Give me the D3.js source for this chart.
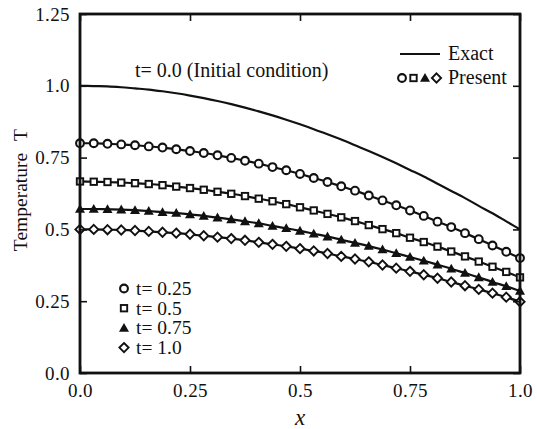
<!DOCTYPE html>
<html><head><meta charset="utf-8">
<script src="https://cdn.jsdelivr.net/npm/d3@7"></script>
<style>body{margin:0;background:#fff}svg{display:block}svg text{font-family:'Liberation Serif','DejaVu Serif',serif !important;fill:#111}</style>
</head><body><svg id="c" width="537" height="429"></svg>
<script>
const xGrid = d3.range(33).map(k => k / 32);
const exact0 = [1.000,0.999,0.998,0.995,0.991,0.987,0.981,0.974,0.966,0.957,0.947,0.936,0.924,0.911,0.897,0.882,0.866,0.849,0.831,0.813,0.793,0.773,0.752,0.730,0.707,0.684,0.659,0.634,0.609,0.582,0.556,0.528,0.500];
const t025 = [0.800,0.800,0.798,0.796,0.793,0.789,0.785,0.779,0.773,0.766,0.758,0.749,0.739,0.729,0.717,0.706,0.693,0.679,0.665,0.650,0.635,0.618,0.601,0.584,0.566,0.547,0.527,0.508,0.487,0.466,0.444,0.422,0.400];
const t050 = [0.667,0.666,0.665,0.663,0.661,0.658,0.654,0.649,0.644,0.638,0.631,0.624,0.616,0.607,0.598,0.588,0.577,0.566,0.554,0.542,0.529,0.515,0.501,0.487,0.471,0.456,0.440,0.423,0.406,0.388,0.370,0.352,0.333];
const t075 = [0.571,0.571,0.570,0.569,0.567,0.564,0.560,0.557,0.552,0.547,0.541,0.535,0.528,0.521,0.512,0.504,0.495,0.485,0.475,0.464,0.453,0.442,0.430,0.417,0.404,0.391,0.377,0.363,0.348,0.333,0.317,0.302,0.286];
const t100 = [0.500,0.500,0.499,0.498,0.496,0.493,0.490,0.487,0.483,0.478,0.473,0.468,0.462,0.455,0.448,0.441,0.433,0.425,0.416,0.406,0.397,0.387,0.376,0.365,0.354,0.342,0.330,0.317,0.304,0.291,0.278,0.264,0.248];
const seriesNames = ["t= 0.25","t= 0.5","t= 0.75","t= 1.0"];
const seriesShapes = ["circle","square","triangle","diamond"];
const xTicks = [0, 0.25, 0.5, 0.75, 1.0];
const xTickLabels = ["0.0","0.25","0.5","0.75","1.0"];
const yTicks = [0, 0.25, 0.5, 0.75, 1.0, 1.25];
const yTickLabels = ["0.0","0.25","0.5","0.75","1.0","1.25"];

const FONT = "'Liberation Serif','DejaVu Serif',serif";
const svg = d3.select("#c");
const L = 80, R = 520, T = 14, B = 373;
const x = d3.scaleLinear().domain([0, 1]).range([L, R]);
const y = d3.scaleLinear().domain([0, 1.25]).range([B, T]);
const series = [t025, t050, t075, t100];

const line = d3.line().x(d => x(d[0])).y(d => y(d[1])).curve(d3.curveMonotoneX);

svg.append("path").datum(xGrid.map((v, i) => [v, exact0[i]]))
  .attr("d", line).attr("fill", "none").attr("stroke", "#111").attr("stroke-width", 2.2);
series.forEach(s => {
  svg.append("path").datum(xGrid.map((v, i) => [v, s[i]]))
    .attr("d", line).attr("fill", "none").attr("stroke", "#111").attr("stroke-width", 2.2);
});

function marker(g, shape, cx, cy) {
  if (shape === "circle") {
    g.append("circle").attr("cx", cx).attr("cy", cy).attr("r", 3.9)
      .attr("fill", "#fff").attr("stroke", "#111").attr("stroke-width", 2.1);
  } else if (shape === "square") {
    g.append("rect").attr("x", cx - 3.2).attr("y", cy - 3.2).attr("width", 6.4).attr("height", 6.4)
      .attr("fill", "#fff").attr("stroke", "#111").attr("stroke-width", 1.9);
  } else if (shape === "triangle") {
    g.append("path").attr("d", `M${cx},${cy - 5}L${cx + 5},${cy + 3.8}L${cx - 5},${cy + 3.8}Z`)
      .attr("fill", "#111");
  } else {
    g.append("path").attr("d", `M${cx},${cy - 4.6}L${cx + 4.6},${cy}L${cx},${cy + 4.6}L${cx - 4.6},${cy}Z`)
      .attr("fill", "#fff").attr("stroke", "#111").attr("stroke-width", 1.9);
  }
}
const mg = svg.append("g");
series.forEach((s, si) => {
  xGrid.forEach((v, i) => marker(mg, seriesShapes[si], x(v), y(s[i])));
});

svg.append("rect").attr("x", L).attr("y", T).attr("width", R - L).attr("height", B - T)
  .attr("fill", "none").attr("stroke", "#111").attr("stroke-width", 2.8);

const fs = "19px";
const xb = svg.append("g").attr("transform", `translate(0,${B})`)
  .call(d3.axisBottom(x).tickValues(xTicks).tickFormat((d, i) => xTickLabels[i]).tickSizeInner(-7).tickSizeOuter(0).tickPadding(11));
const xt = svg.append("g").attr("transform", `translate(0,${T})`)
  .call(d3.axisTop(x).tickValues(xTicks).tickFormat("").tickSizeInner(-7).tickSizeOuter(0));
const yl = svg.append("g").attr("transform", `translate(${L},0)`)
  .call(d3.axisLeft(y).tickValues(yTicks).tickFormat((d, i) => yTickLabels[i]).tickSizeInner(-7).tickSizeOuter(0).tickPadding(10));
const yr = svg.append("g").attr("transform", `translate(${R},0)`)
  .call(d3.axisRight(y).tickValues(yTicks).tickFormat("").tickSizeInner(-7).tickSizeOuter(0));
[xb, xt, yl, yr].forEach(g => {
  g.attr("font-family", FONT);
  g.select(".domain").remove();
  g.selectAll(".tick line").attr("stroke", "#111").attr("stroke-width", 1.6);
  g.selectAll("text").attr("font-family", FONT).attr("font-size", fs).attr("letter-spacing", "0.4px").attr("fill", "#111");
});

svg.append("text").attr("transform", "translate(27,202) rotate(-90)").attr("text-anchor", "middle")
  .attr("font-family", FONT).attr("font-size", "19.5px").text("Temperature");
svg.append("text").attr("transform", "translate(27,135) rotate(-90)").attr("text-anchor", "middle")
  .attr("font-family", FONT).attr("font-size", "19.5px").text("T");
svg.append("text").attr("x", 300).attr("y", 425).attr("text-anchor", "middle")
  .attr("font-family", FONT).attr("font-size", "23px").attr("font-style", "italic").text("x");

svg.append("text").attr("x", 135).attr("y", 77).attr("font-family", FONT).attr("font-size", "20px").text("t= 0.0 (Initial condition)");

svg.append("line").attr("x1", 400).attr("x2", 440).attr("y1", 54).attr("y2", 54).attr("stroke", "#111").attr("stroke-width", 2);
svg.append("text").attr("x", 448).attr("y", 60).attr("font-family", FONT).attr("font-size", "20px").text("Exact");
const lg = svg.append("g");
seriesShapes.forEach((s, i) => marker(lg, s, 402 + i * 11.5, 78));
svg.append("text").attr("x", 448).attr("y", 84).attr("font-family", FONT).attr("font-size", "20px").text("Present");

const lg2 = svg.append("g");
seriesNames.forEach((n, i) => {
  const yy = 288.5 + i * 19.7;
  marker(lg2, seriesShapes[i], 124, yy);
  lg2.append("text").attr("x", 136).attr("y", yy + 6.5).attr("font-family", FONT).attr("font-size", "19.5px").text(n);
});
</script></body></html>
